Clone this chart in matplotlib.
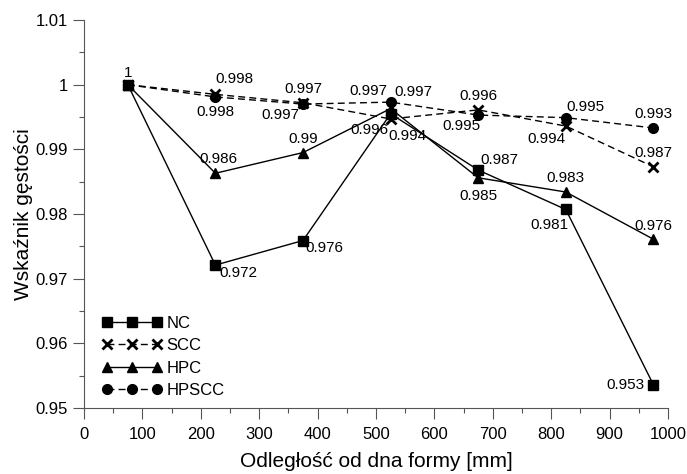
import matplotlib
matplotlib.use("Agg")
import matplotlib.pyplot as plt
from matplotlib.ticker import MultipleLocator, FuncFormatter

plt.rcParams['font.family'] = ['Liberation Sans', 'DejaVu Sans']

# distance from the mould bottom [mm]
x = [75, 225, 375, 525, 675, 825, 975]

nc = [1.0, 0.9721, 0.9759, 0.9955, 0.9868, 0.9807, 0.9536]
scc = [1.0, 0.9985, 0.9972, 0.9947, 0.9961, 0.9936, 0.9873]
hpc = [1.0, 0.9863, 0.9895, 0.9963, 0.9856, 0.9834, 0.9761]
hpscc = [1.0, 0.9981, 0.9970, 0.9973, 0.9953, 0.9949, 0.9933]

nc_lbl = ["1", "0.972", "0.976", "0.996", "0.987", "0.981", "0.953"]
scc_lbl = [None, "0.998", "0.997", "0.994", "0.996", "0.994", "0.987"]
hpc_lbl = [None, "0.986", "0.99", "0.997", "0.985", "0.983", "0.976"]
hpscc_lbl = [None, "0.998", "0.997", "0.997", "0.995", "0.995", "0.993"]

# label offsets in pixels (dx, dy), dy positive = up
nc_off = [(0, 12), (23, -8), (21, -7), (-21, -16), (21, 10), (-16, -16), (-28, 0)]
scc_off = [None, (19, 15), (0, 14), (17, -17), (0, 14), (-19, -13), (0, 14)]
hpc_off = [None, (3, 14), (0, 14), (-22, 18), (0, -18), (0, 14), (0, 13)]
hpscc_off = [None, (0, -15), (-23, -11), (23, 10), (-17, -11), (20, 11), (0, 14)]

fig = plt.figure(figsize=(6.87, 4.74), dpi=100)
ax = fig.add_axes([84 / 687, 1 - 408 / 474, 584 / 687, 388 / 474])

ax.plot(x, nc, color='black', lw=1, marker='s', ms=7, label='NC')
ax.plot(x, scc, color='black', lw=1, ls=(0, (5, 3)), marker='x', ms=7, mew=2, label='SCC')
ax.plot(x, hpc, color='black', lw=1, marker='^', ms=7, label='HPC')
ax.plot(x, hpscc, color='black', lw=1, ls=(0, (5, 3)), marker='o', ms=7, label='HPSCC')

for vals, lbls, offs in [(nc, nc_lbl, nc_off), (scc, scc_lbl, scc_off),
                         (hpc, hpc_lbl, hpc_off), (hpscc, hpscc_lbl, hpscc_off)]:
    for xi, yi, t, o in zip(x, vals, lbls, offs):
        if t is None:
            continue
        ax.annotate(t, (xi, yi), xytext=(o[0] * 0.72, o[1] * 0.72), textcoords='offset points',
                    ha='center', va='center', fontsize=11)

ax.set_xlim(0, 1000)
ax.set_ylim(0.95, 1.01)
ax.xaxis.set_major_locator(MultipleLocator(100))
ax.xaxis.set_minor_locator(MultipleLocator(50))
ax.yaxis.set_major_locator(MultipleLocator(0.01))
ax.yaxis.set_minor_locator(MultipleLocator(0.005))
ax.yaxis.set_major_formatter(FuncFormatter(lambda v, p: '%g' % round(v, 3)))
ax.tick_params(which='major', length=8, width=0.8, labelsize=12, color='#555555')
ax.tick_params(axis='x', which='major', pad=6)
ax.tick_params(which='minor', length=3.5, width=0.8, color='#555555')

for s in ['top', 'right']:
    ax.spines[s].set_visible(False)
for s in ['left', 'bottom']:
    ax.spines[s].set_color('#555555')
    ax.spines[s].set_linewidth(0.8)

ax.set_xlabel('Odległość od dna formy [mm]', fontsize=15, labelpad=7)
ax.set_ylabel('Wskaźnik gęstości', fontsize=15, labelpad=2)

ax.legend(loc='lower left', bbox_to_anchor=(0.01, -0.005), frameon=False, numpoints=3,
          handlelength=3.6, handletextpad=0.3, labelspacing=0.45, fontsize=12, borderpad=0.2)

fig.savefig('out.png', dpi=100)
